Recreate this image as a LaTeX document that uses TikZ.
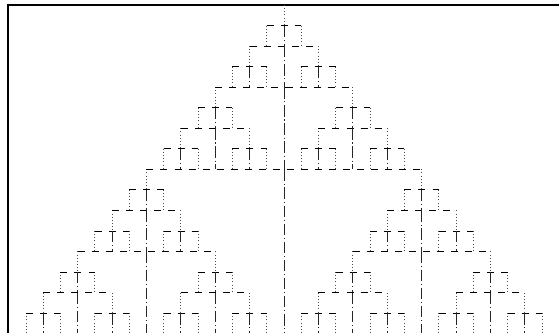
\documentclass[tikz,border=0pt]{standalone}
\usepackage{tikz}

% one triangle of the tree: level, x of the stem, y of the stem top
\newcommand\sierp[3]{%
  \begingroup
  \pgfmathtruncatemacro\lev{#1}%
  \pgfmathsetmacro\cx{#2}%
  \pgfmathsetmacro\cy{#3}%
  \pgfmathsetmacro\half{8.6*2^\lev}%
  \pgfmathsetmacro\drop{10.27*2^\lev}%
  \pgfmathsetmacro\lx{\cx-\half}%
  \pgfmathsetmacro\rx{\cx+\half}%
  \pgfmathsetmacro\ny{\cy+\drop}%
  \ifnum\lev=1
    \draw[stemline] (\cx,\cy) -- (\cx,\ny);
    \draw[sideline] (\lx,\ny) -- ++(0,\drop);
    \draw[sideline] (\rx,\ny) -- ++(0,\drop);
  \else
    \pgfmathtruncatemacro\sub{\lev-1}%
    \sierp{\sub}{\cx}{\cy}%
    \sierp{\sub}{\lx}{\ny}%
    \sierp{\sub}{\rx}{\ny}%
  \fi
  \draw[barline] (\lx,\ny) -- (\rx,\ny);
  \draw[axisline] (\cx,\ny) -- ++(0,\drop);
  \endgroup}

\begin{document}
\begin{tikzpicture}[
  x=0.02cm, y=-0.02cm, line width=0.45pt,
  frame/.style={line width=0.8pt},
  barline/.style={dash pattern=on 4pt off 4pt},
  sideline/.style={black!70, dash pattern=on 0.5pt off 1.3pt},
  stemline/.style={sideline},
  axisline/.style={black!85, dash pattern=on 6.5pt off 1.6pt on 0.6pt off 1.6pt}
]
  \clip (0,0) rectangle (559,333);
  \draw[frame] (559,5) -- (8,5) -- (8,333);
  \sierp{4}{284}{5}
\end{tikzpicture}
\end{document}
